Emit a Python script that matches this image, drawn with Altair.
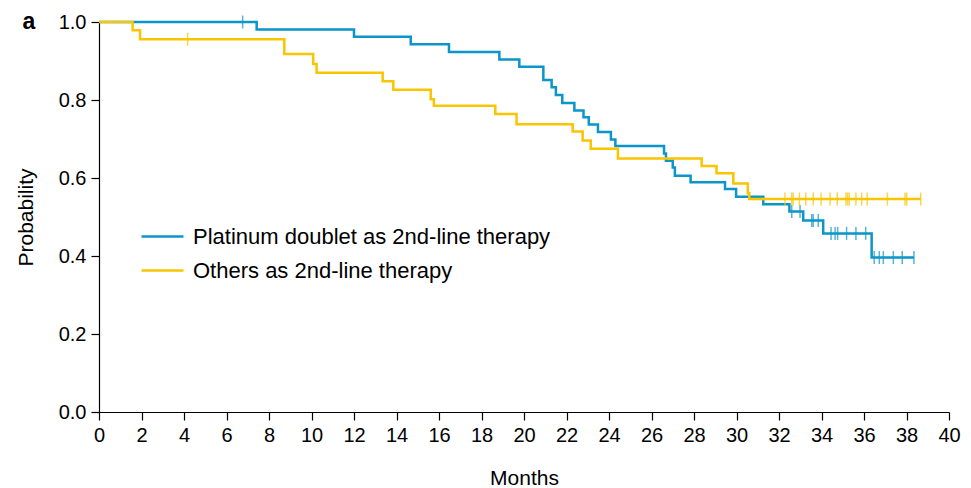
import altair as alt
import pandas as pd

# ---- data ----
groups = ["Platinum doublet as 2nd-line therapy", "Others as 2nd-line therapy"]
colors = ["#0b95c9", "#f9c400"]

# Platinum doublet: step times (months) and survival probability after each step
plat_t = [0, 7.42, 12.0, 14.67, 16.47, 18.84, 19.78, 20.91, 21.3, 21.5, 21.8, 22.37,
          22.8, 23.05, 23.48, 24.09, 24.3, 26.59, 26.68, 27.0, 27.1, 27.84, 29.46,
          29.98, 31.26, 32.49, 33.14, 34.08, 36.36, 38.35]
plat_s = [1.0, 0.981, 0.962, 0.943, 0.923, 0.904, 0.885, 0.851, 0.833, 0.813, 0.792,
          0.773, 0.756, 0.737, 0.718, 0.699, 0.682, 0.663, 0.644, 0.627, 0.606, 0.589,
          0.572, 0.552, 0.533, 0.514, 0.491, 0.458, 0.396, 0.396]
plat_cens_t = [6.76, 32.6, 32.99, 33.54, 33.61, 33.85, 34.45, 34.64, 34.76, 35.18,
               35.62, 36.08, 36.48, 36.72, 36.91, 37.38, 37.8, 38.35]
plat_cens_s = [1.0, 0.514, 0.514, 0.491, 0.491, 0.491, 0.458, 0.458, 0.458, 0.458,
               0.458, 0.458, 0.396, 0.396, 0.396, 0.396, 0.396, 0.396]

# Others
oth_t = [0, 1.58, 1.93, 8.72, 10.08, 10.24, 13.35, 13.85, 15.61, 15.76, 18.65, 19.65,
         22.29, 22.76, 23.14, 24.42, 28.36, 29.06, 29.85, 30.53, 30.6, 38.67]
oth_s = [1.0, 0.979, 0.956, 0.918, 0.892, 0.870, 0.848, 0.826, 0.802, 0.785, 0.764,
         0.738, 0.719, 0.696, 0.675, 0.650, 0.631, 0.612, 0.586, 0.561, 0.546, 0.546]
oth_cens_t = [4.17, 32.28, 32.60, 32.67, 32.96, 33.26, 33.61, 33.98, 34.40, 34.74,
              35.15, 35.23, 35.31, 35.62, 35.89, 36.15, 37.10, 37.93, 38.01, 38.67]
oth_cens_s = [0.956] + [0.546] * 19

x_ticks = list(range(0, 41, 2))
y_ticks = [0.0, 0.2, 0.4, 0.6, 0.8, 1.0]

# ---- tables ----
curves = pd.concat([
    pd.DataFrame({"Months": plat_t, "Probability": plat_s, "Group": groups[0]}),
    pd.DataFrame({"Months": oth_t, "Probability": oth_s, "Group": groups[1]}),
])
censors = pd.concat([
    pd.DataFrame({"Months": plat_cens_t, "Probability": plat_cens_s, "Group": groups[0]}),
    pd.DataFrame({"Months": oth_cens_t, "Probability": oth_cens_s, "Group": groups[1]}),
])

FONT = "Liberation Sans"

xenc = alt.X("Months:Q", scale=alt.Scale(domain=[0, 40], nice=False),
             axis=alt.Axis(values=x_ticks, title="Months", format="d", labelFlush=False))
yenc = alt.Y("Probability:Q", scale=alt.Scale(domain=[0, 1], nice=False),
             axis=alt.Axis(values=y_ticks, title="Probability", format=".1f"))
color_scale = alt.Scale(domain=groups, range=colors)

lines = alt.Chart(curves).mark_line(interpolate="step-after", strokeWidth=2.5).encode(
    x=xenc, y=yenc,
    color=alt.Color("Group:N", scale=color_scale, sort=groups,
                    legend=alt.Legend(title=None, orient="none", legendX=41, legendY=192,
                                      symbolType="stroke", symbolSize=1764,
                                      symbolStrokeWidth=2.5, labelFontSize=22,
                                      labelFont=FONT, labelColor="black", labelLimit=0,
                                      labelOffset=8, rowPadding=-5, padding=0)),
    order=alt.Order("Months:Q"),
)

ticks = alt.Chart(censors).mark_tick(orient="vertical", size=13, thickness=1.5).encode(
    x="Months:Q", y="Probability:Q",
    color=alt.Color("Group:N", scale=color_scale, legend=None),
)

panel_label = alt.Chart(pd.DataFrame({"t": ["a"]})).mark_text(
    font=FONT, fontSize=23, fontWeight="bold", align="center", baseline="middle", color="black"
).encode(text="t:N", x=alt.value(-70), y=alt.value(0))

chart = alt.layer(lines, ticks, panel_label).properties(
    width=850, height=390,
    autosize=alt.AutoSizeParams(type="none"),
    padding={"left": 91, "top": 14, "right": 14, "bottom": 78},
).configure_view(stroke=None).configure_axis(
    grid=False, domainColor="black", domainWidth=1.2, tickColor="black", tickWidth=1.2,
    tickSize=8, labelFont=FONT, labelFontSize=20, labelColor="black",
    titleFont=FONT, titleFontSize=21, titleFontWeight="normal", titleColor="black",
    labelPadding=5,
).configure_axisX(titlePadding=22).configure_axisY(titlePadding=22)

chart.save("out.html", embed_options={"renderer": "svg", "actions": False})
